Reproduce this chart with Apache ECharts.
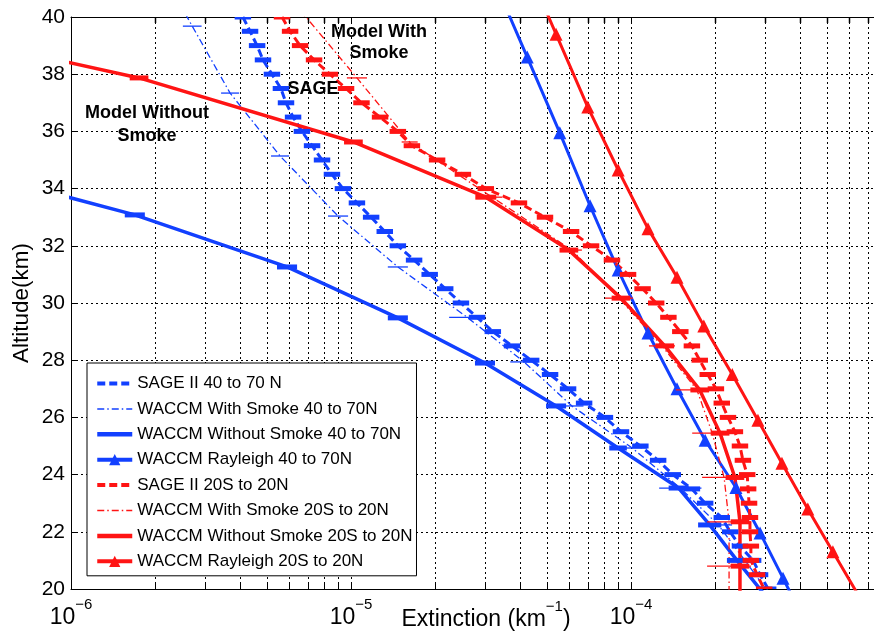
<!DOCTYPE html>
<html><head><meta charset="utf-8">
<script src="https://cdn.jsdelivr.net/npm/echarts@6/dist/echarts.min.js"></script>
<style>html,body{margin:0;padding:0;background:#fff}#c{width:874px;height:633px}</style>
</head><body><div id="c"></div>
<script>
// ---------- data ----------
const yTickValues = [20,22,24,26,28,30,32,34,36,38,40];
const xMinorGrid = [2e-6,3e-6,4e-6,5e-6,6e-6,7e-6,8e-6,9e-6,2e-5,3e-5,4e-5,5e-5,6e-5,7e-5,8e-5,9e-5,2e-4,3e-4,4e-4,5e-4,6e-4,7e-4,8e-4,9e-4];

const sageAlt = [40,39.5,39,38.5,38,37.5,37,36.5,36,35.5,35,34.5,34,33.5,33,32.5,32,31.5,31,30.5,30,29.5,29,28.5,28,27.5,27,26.5,26,25.5,25,24.5,24,23.5,23,22.5,22,21.5,21,20.5,20];
const sageBlue = [4.11e-6,4.36e-6,4.62e-6,4.85e-6,5.22e-6,5.62e-6,5.86e-6,6.21e-6,6.68e-6,7.26e-6,7.88e-6,8.55e-6,9.36e-6,1.05e-5,1.18e-5,1.32e-5,1.47e-5,1.68e-5,1.91e-5,2.17e-5,2.47e-5,2.82e-5,3.21e-5,3.76e-5,4.40e-5,5.14e-5,5.96e-5,6.80e-5,8.07e-5,9.21e-5,1.08e-4,1.25e-4,1.41e-4,1.65e-4,1.84e-4,2.11e-4,2.26e-4,2.45e-4,2.73e-4,2.89e-4,3.09e-4];
const sageRed = [5.67e-6,6.06e-6,6.58e-6,7.38e-6,8.41e-6,9.60e-6,1.09e-5,1.27e-5,1.47e-5,1.65e-5,2.03e-5,2.51e-5,3.03e-5,3.98e-5,4.93e-5,6.11e-5,7.20e-5,8.55e-5,9.76e-5,1.10e-4,1.23e-4,1.36e-4,1.50e-4,1.65e-4,1.76e-4,1.88e-4,2.01e-4,2.11e-4,2.22e-4,2.35e-4,2.45e-4,2.51e-4,2.60e-4,2.62e-4,2.64e-4,2.66e-4,2.66e-4,2.68e-4,2.68e-4,2.82e-4,2.99e-4];
const sageErr = 0.07;

const blueSmokeAlt = [41.0,39.68,37.34,35.14,33.04,31.26,29.5,27.94,26.4,24.93,23.53,22.24,21.0,19.8];
const blueSmoke    = [2.28e-6,2.71e-6,3.70e-6,5.58e-6,8.99e-6,1.47e-5,2.60e-5,4.15e-5,6.15e-5,1.01e-4,1.50e-4,2.05e-4,2.55e-4,3.14e-4];
const blueSmokeErr = [null,0.08,0.077,0.077,0.086,0.086,0.16,0.12,0.1,0.13,0.19,0.12,0.1,null];

const blueNoSmokeAlt = [34.9,33.08,31.26,29.48,27.9,26.4,24.93,23.53,22.24,21.0,19.8];
const blueNoSmoke    = [3.38e-7,1.69e-6,5.91e-6,1.47e-5,3.01e-5,5.40e-5,8.99e-5,1.48e-4,1.91e-4,2.39e-4,3.0e-4];
const blueNoSmokeErr = [null,0.086,0.086,0.086,0.086,0.086,0.075,0.086,0.1,0.086,null];

const blueRayAlt = [41.2,38.6,35.95,33.4,31.15,28.95,27.0,25.2,23.55,21.96,20.38,19.0];
const blueRay    = [3.27e-5,4.26e-5,5.57e-5,7.14e-5,9.0e-5,1.15e-4,1.46e-4,1.84e-4,2.37e-4,2.89e-4,3.49e-4,4.11e-4];

const redSmokeAlt = [41.0,37.87,35.63,33.7,31.85,30.17,28.5,26.96,25.45,23.9,22.35,20.8,19.3];
const redSmoke    = [5.67e-6,1.05e-5,1.62e-5,3.19e-5,6.15e-5,9.06e-5,1.29e-4,1.72e-4,1.95e-4,2.15e-4,2.24e-4,2.24e-4,2.24e-4];
const redSmokeErr = [null,0.086,0.068,0.086,0.086,0.122,0.113,0.189,0.179,0.198,0.198,0.198,null];

const redNoSmokeAlt = [39.4,37.87,35.63,33.7,31.85,30.17,28.5,26.96,25.45,23.9,22.35,20.8,19.3];
const redNoSmoke    = [3.4e-7,1.75e-6,1.02e-5,3.03e-5,6.00e-5,9.21e-5,1.32e-4,1.76e-4,2.08e-4,2.35e-4,2.45e-4,2.45e-4,2.45e-4];
const redNoSmokeErr = [null,0.08,0.08,0.09,0.08,0.08,0.08,0.08,0.08,0.08,0.08,0.08,null];

const redRayAlt = [41.5,39.4,36.85,34.65,32.6,30.9,29.2,27.5,25.9,24.4,22.8,21.3,19.8];
const redRay    = [4.36e-5,5.40e-5,7.01e-5,9.0e-5,1.15e-4,1.46e-4,1.82e-4,2.30e-4,2.84e-4,3.46e-4,4.28e-4,5.26e-4,6.47e-4];

const names = ['SAGE II 40 to 70 N','WACCM With Smoke 40 to 70N','WACCM Without Smoke 40 to 70N','WACCM Rayleigh 40 to 70N',
               'SAGE II 20S to 20N','WACCM With Smoke 20S to 20N','WACCM Without Smoke 20S to 20N','WACCM Rayleigh 20S to 20N'];

// ---------- styles ----------
const FONT = 'Liberation Sans, Arial, Helvetica, sans-serif';
const BLUE = '#1240ff', RED = '#ff1414';
const DOT = [2,3];
const legendWidths = [4, 1.5, 4.5, 4, 4, 1.5, 4.5, 4];

function pairs(vals, alts){ return vals.map((v,i)=>[v, alts[i]]); }
function lineSeries(name, vals, alts, color, width, type, symbol){
  return {type:'line', name, data: pairs(vals, alts), clip:true, silent:true,
    symbol: symbol || 'none', symbolSize: 13, showSymbol: !!symbol,
    lineStyle:{color, width, type}, itemStyle:{color}, z: 3};
}
function errSeries(vals, alts, errs, color, width){
  const data = [];
  vals.forEach((v,i)=>{ const e = Array.isArray(errs) ? errs[i] : errs; if (e != null) data.push([v, alts[i], e]); });
  return {type:'custom', name: 'err', data, clip:true, silent:true, z: 4,
    encode:{x:0, y:1},
    renderItem(params, api){
      const v = api.value(0), a = api.value(1), e = api.value(2);
      const p1 = api.coord([v/(1+e), a]), p2 = api.coord([v*(1+e), a]);
      return {type:'line', shape:{x1:p1[0], y1:p1[1], x2:p2[0], y2:p2[1]}, style:{stroke:color, lineWidth:width}};
    }};
}
// minor vertical grid lines + inward minor ticks at the 2..9 sub-decade values, placed through the log axis
const minorGridSeries = {
  type:'custom', name:'minor grid', silent:true, z:1, clip:false,
  data: xMinorGrid.map(v => [v, yTickValues[5]]), encode:{x:0, y:1},
  renderItem(params, api){
    const p = api.coord([api.value(0), api.value(1)]);
    const cs = params.coordSys;
    if (p[0] > cs.x + cs.width) return null;
    const x = Math.round(p[0]) + 0.5;
    return {type:'group', children:[
      {type:'line', shape:{x1:x, y1:cs.y, x2:x, y2:cs.y+cs.height}, style:{stroke:'#000', lineWidth:1, lineDash:DOT}},
      {type:'line', shape:{x1:x, y1:cs.y+cs.height-5, x2:x, y2:cs.y+cs.height}, style:{stroke:'#000', lineWidth:1}},
      {type:'line', shape:{x1:x, y1:cs.y, x2:x, y2:cs.y+6}, style:{stroke:'#000', lineWidth:1.5}}
    ]};
  }
};

const chart = echarts.init(document.getElementById('c'), null, {renderer:'canvas'});
const xLabel = v => { const e = Math.round(Math.log10(v)); if (e > -4) return ''; return '{b|10}{s|' + (e<0?'\u2212':'') + Math.abs(e) + '}'; };

chart.setOption({
  animation:false,
  backgroundColor:'#fff',
  textStyle:{fontFamily:FONT},
  grid:{left:71, top:17, bottom:44, right:-37, containLabel:false, outerBoundsMode:'none'},
  xAxis:[{
    type:'log', logBase:10, min:1e-6, max:1e-3,
    axisLine:{show:true, lineStyle:{color:'#000', width:1}},
    axisTick:{show:true, inside:true, length:7, lineStyle:{color:'#000'}},
    splitLine:{show:true, lineStyle:{color:'#000', type:DOT, width:1}},
    axisLabel:{formatter:xLabel, margin:8, color:'#000', hideOverlap:false,
      rich:{b:{fontSize:23, fontFamily:FONT, color:'#000', padding:[9,0,0,0], verticalAlign:'bottom'},
            s:{fontSize:15, fontFamily:FONT, color:'#000', verticalAlign:'top'}}},
    name:'{t|Extinction (km}{s|\u22121}{t|)}', nameLocation:'middle', nameGap:10, nameMoveOverlap:false,
    nameTextStyle:{verticalAlign:'top', padding:[0,10,0,0],
      rich:{t:{fontSize:23, fontFamily:FONT, color:'#000', padding:[9,0,0,0], verticalAlign:'bottom'},
            s:{fontSize:15, fontFamily:FONT, color:'#000', verticalAlign:'top'}}}
  },{
    type:'log', logBase:10, min:1e-6, max:1e-3, position:'top',
    axisLine:{show:true, lineStyle:{color:'#000', width:1}},
    axisTick:{show:true, inside:true, length:7, lineStyle:{color:'#000'}},
    axisLabel:{show:false}, splitLine:{show:false}
  }],
  yAxis:{
    type:'value', min:20, max:40, interval:2,
    axisLine:{show:true, lineStyle:{color:'#000', width:1}},
    axisTick:{show:true, inside:true, length:7, lineStyle:{color:'#000'}},
    splitLine:{show:true, lineStyle:{color:'#000', type:DOT, width:1}},
    axisLabel:{fontSize:21, color:'#000', margin:6, fontFamily:FONT},
    name:'Altitude(km)', nameLocation:'middle', nameGap:38, nameRotate:90, nameMoveOverlap:false,
    nameTextStyle:{fontSize:22.5, color:'#000', fontFamily:FONT}
  },
  legend:{
    data: names.map((n,i)=> {
      const d = {name:n, lineStyle:{width:legendWidths[i]}};
      if (!(i===3||i===7)) d.itemStyle = {opacity:0};
      return d;
    }),
    orient:'vertical', left:87, top:363,
    itemWidth:35, itemHeight:14, itemGap:8.4,
    padding:[12,4,6,8],
    borderColor:'#000', borderWidth:1, backgroundColor:'#fff',
    textStyle:{fontSize:17, color:'#000', fontFamily:FONT},
    selectedMode:false, z:10
  },
  graphic:[
    {type:'text', x:147, y:101.5, z:20, style:{text:'Model Without\nSmoke', fill:'#000', font:'bold 18px '+FONT, align:'center', verticalAlign:'top', lineHeight:23}},
    {type:'text', x:379, y:21.5, z:20, style:{text:'Model With\nSmoke', fill:'#000', font:'bold 18px '+FONT, align:'center', verticalAlign:'top', lineHeight:21}},
    {type:'text', x:313, y:80, z:20, style:{text:'SAGE', fill:'#000', font:'bold 18px '+FONT, align:'center', verticalAlign:'top'}}
  ],
  series:[
    minorGridSeries,
    lineSeries(names[0], sageBlue, sageAlt, BLUE, 3, [8,4]),
    lineSeries(names[1], blueSmoke, blueSmokeAlt, BLUE, 1.3, [7,3,1.5,3]),
    lineSeries(names[2], blueNoSmoke, blueNoSmokeAlt, BLUE, 3.5, 'solid'),
    lineSeries(names[3], blueRay, blueRayAlt, BLUE, 3, 'solid', 'triangle'),
    errSeries(sageBlue, sageAlt, sageErr, BLUE, 5),
    errSeries(blueSmoke, blueSmokeAlt, blueSmokeErr, BLUE, 1.3),
    errSeries(blueNoSmoke, blueNoSmokeAlt, blueNoSmokeErr, BLUE, 5),
    lineSeries(names[4], sageRed, sageAlt, RED, 3, [8,4]),
    lineSeries(names[5], redSmoke, redSmokeAlt, RED, 1.3, [7,3,1.5,3]),
    lineSeries(names[6], redNoSmoke, redNoSmokeAlt, RED, 3.5, 'solid'),
    lineSeries(names[7], redRay, redRayAlt, RED, 3, 'solid', 'triangle'),
    errSeries(sageRed, sageAlt, sageErr, RED, 5),
    errSeries(redSmoke, redSmokeAlt, redSmokeErr, RED, 1.3),
    errSeries(redNoSmoke, redNoSmokeAlt, redNoSmokeErr, RED, 5)
  ]
});
</script>
</body></html>
